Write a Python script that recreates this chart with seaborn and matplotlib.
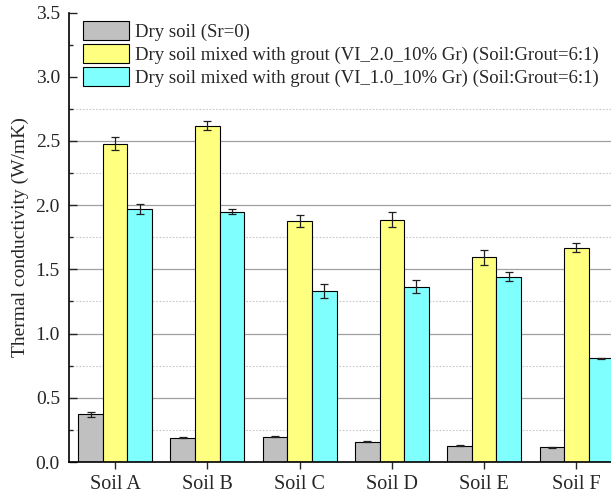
import numpy as np
import pandas as pd
import seaborn as sns
from matplotlib import pyplot as plt
from matplotlib.ticker import MultipleLocator

soils = ["Soil A", "Soil B", "Soil C", "Soil D", "Soil E", "Soil F"]
groups = [
    "Dry soil (Sr=0)",
    "Dry soil mixed with grout (VI_2.0_10% Gr) (Soil:Grout=6:1)",
    "Dry soil mixed with grout (VI_1.0_10% Gr) (Soil:Grout=6:1)",
]
dry = [0.372, 0.190, 0.197, 0.158, 0.125, 0.115]
dry_err = [0.020, 0.004, 0.004, 0.004, 0.004, 0.004]
vi20 = [2.480, 2.620, 1.875, 1.888, 1.594, 1.670]
vi20_err = [0.050, 0.035, 0.047, 0.058, 0.057, 0.034]
vi10 = [1.968, 1.950, 1.332, 1.365, 1.443, 0.808]
vi10_err = [0.040, 0.020, 0.058, 0.050, 0.033, 0.004]
colors = ["#C0C0C0", "#FFFF80", "#80FFFF"]

values = [dry, vi20, vi10]
errors = [dry_err, vi20_err, vi10_err]

df = pd.DataFrame(
    {
        "soil": soils * 3,
        "group": np.repeat(groups, len(soils)),
        "value": dry + vi20 + vi10,
    }
)

sns.set_style("ticks")
plt.rcParams["font.family"] = ["Liberation Serif", "DejaVu Serif"]
plt.rcParams["font.size"] = 14

fig = plt.figure(figsize=(6.11, 4.99), dpi=100)
ax = fig.add_axes([0.1129, 0.0741, 0.906, 0.9008])

sns.barplot(
    data=df,
    x="soil",
    y="value",
    hue="group",
    hue_order=groups,
    palette=colors,
    saturation=1,
    edgecolor="black",
    linewidth=0.8,
    errorbar=None,
    ax=ax,
)

# Error bars at the bar centres
for cont, vals, errs in zip(ax.containers, values, errors):
    xs = [p.get_x() + p.get_width() / 2 for p in cont]
    ax.errorbar(xs, vals, yerr=errs, fmt="none", ecolor="#202020",
                elinewidth=0.9, capsize=3.2, capthick=0.9, zorder=5)

ax.set_xlim(-0.5, 5.5)
ax.set_ylim(0, 3.5)
ax.yaxis.set_major_locator(MultipleLocator(0.5))
ax.yaxis.set_minor_locator(MultipleLocator(0.25))

# grid only below the legend area
for lvl in np.arange(0.25, 2.8, 0.25):
    if np.isclose(lvl % 0.5, 0):
        ax.axhline(lvl, color="#a0a0a0", linestyle="-", linewidth=0.9, zorder=0)
    else:
        ax.axhline(lvl, color="#c8c8c8", linestyle=(0, (1.5, 1.5)), linewidth=0.8, zorder=0)

ax.set_xlabel("")
ax.set_ylabel("Thermal conductivity (W/mK)", fontsize=14, labelpad=5)
ax.tick_params(axis="y", which="major", direction="in", length=5.7, width=1, pad=6.5, labelsize=14)
ax.tick_params(axis="y", which="minor", direction="in", length=3, width=1)
ax.tick_params(axis="x", which="major", direction="out", length=5, width=1, pad=4, labelsize=14.5)

for s in ["top", "right"]:
    ax.spines[s].set_visible(False)
for s in ["left", "bottom"]:
    ax.spines[s].set_linewidth(1.2)
    ax.spines[s].set_color("black")

handles, labels = ax.get_legend_handles_labels()
ax.legend(
    handles,
    labels,
    loc="upper left",
    bbox_to_anchor=(0.0253, 0.982),
    frameon=False,
    fontsize=13.5,
    borderpad=0,
    borderaxespad=0,
    handlelength=2.45,
    handleheight=1.2,
    labelspacing=0.165,
    handletextpad=0.3,
)

plt.savefig("out.png", dpi=100)
